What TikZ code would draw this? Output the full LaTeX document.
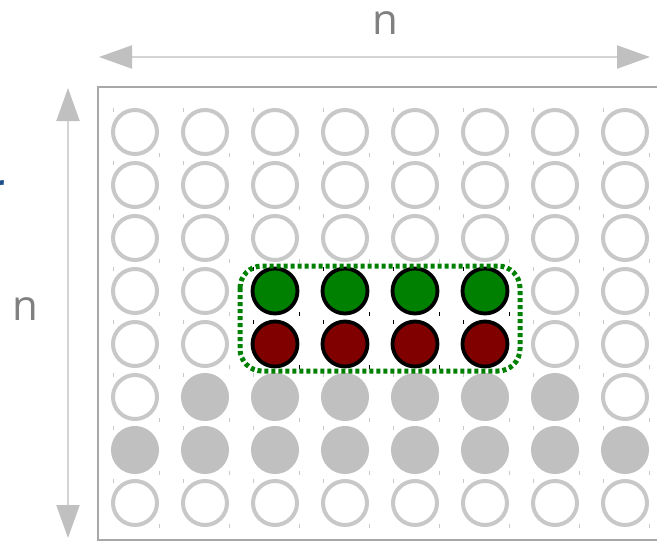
\documentclass[tikz,border=0pt]{standalone}
\usepackage{fontspec}
\setmainfont{Open Sans}
\usetikzlibrary{arrows.meta}
\definecolor{ringgray}{HTML}{C8C8C8}
\definecolor{fillgray}{HTML}{C0C0C0}
\definecolor{boxgray}{HTML}{A8A8A8}
\definecolor{arrgray}{HTML}{D4D4D4}
\definecolor{headgray}{HTML}{C0C0C0}
\definecolor{labgray}{HTML}{808080}
\definecolor{cgreen}{HTML}{008000}
\definecolor{cred}{HTML}{800000}
\definecolor{rblue}{HTML}{1F4E8C}
\begin{document}
\begin{tikzpicture}[x=1pt,y=-1pt,
  cellW/.style={circle,inner sep=0pt,minimum size=44pt,line width=4pt,draw=ringgray,fill=white},
  cellG/.style={cellW,draw=fillgray,fill=fillgray},
  cellGn/.style={cellW,minimum size=45pt,draw=black,line width=3.8pt,fill=cgreen},
  cellRd/.style={cellW,minimum size=45pt,draw=black,line width=3.8pt,fill=cred},
  gridtick/.style={line width=0.8pt,draw=ringgray},
  darktick/.style={line width=0.8pt,draw=black},
  dimarrow/.style={line width=2pt,draw=arrgray,
    {Triangle[length=33pt,width=23pt,color=headgray]}-{Triangle[length=33pt,width=23pt,color=headgray]}},
  lab/.style={text=labgray,inner sep=0pt,font=\fontsize{42}{42}\selectfont},
  selbox/.style={draw=cgreen,line width=5pt,dash pattern=on 4pt off 3pt,rounded corners=22pt}
]
\useasboundingbox (0,0) rectangle (657,541);
\fill[white] (0,0) rectangle (657,541);

% frame
\draw[boxgray,line width=2pt] (720,87) -| (98,540) -- (720,540);

% dimension arrows
\coordinate (hl) at (99,57);
\coordinate (hr) at (650,57);
\coordinate (vt) at (68,88);
\coordinate (vb) at (68,538);
\draw[dimarrow] (hl) -- (hr);
\draw[dimarrow] (vt) -- (vb);

% labels
\node[lab] (ntop) at (385,23) {n};
\node[lab] (nleft) at (25,309) {n};
\node[text=rblue,inner sep=0pt,anchor=base east,font=\fontsize{34}{34}\selectfont\bfseries] (rfrag) at (5,199) {r};

% grid ticks
\foreach \j in {1,...,8}{
  \foreach \i in {1,...,8}{
    \pgfmathsetmacro{\cx}{135+70*(\i-1)}
    \pgfmathsetmacro{\cy}{132+53*(\j-1)}
    \draw[gridtick] (\cx-22,\cy-24) -- (\cx-22,\cy-20);
    \draw[gridtick] (\cx+24,\cy+21) -- (\cx+24,\cy+25);
  }
}
\foreach \j in {4,5}{
  \foreach \i in {3,...,6}{
    \pgfmathsetmacro{\cx}{135+70*(\i-1)}
    \pgfmathsetmacro{\cy}{132+53*(\j-1)}
    \draw[darktick] (\cx-22,\cy-24) -- (\cx-22,\cy-20);
    \draw[darktick] (\cx+24,\cy+21) -- (\cx+24,\cy+25);
  }
}

% cells
\foreach \j/\row in {
  1/{cellW,cellW,cellW,cellW,cellW,cellW,cellW,cellW},
  2/{cellW,cellW,cellW,cellW,cellW,cellW,cellW,cellW},
  3/{cellW,cellW,cellW,cellW,cellW,cellW,cellW,cellW},
  4/{cellW,cellW,cellGn,cellGn,cellGn,cellGn,cellW,cellW},
  5/{cellW,cellW,cellRd,cellRd,cellRd,cellRd,cellW,cellW},
  6/{cellW,cellG,cellG,cellG,cellG,cellG,cellG,cellW},
  7/{cellG,cellG,cellG,cellG,cellG,cellG,cellG,cellG},
  8/{cellW,cellW,cellW,cellW,cellW,cellW,cellW,cellW}}{
  \foreach \s [count=\i] in \row {
    \node[\s] (c-\i-\j) at ({135+70*(\i-1)},{132+53*(\j-1)}) {};
  }
}

% selection box
\draw[selbox] (240,266) rectangle (520,371);
\end{tikzpicture}
\end{document}
